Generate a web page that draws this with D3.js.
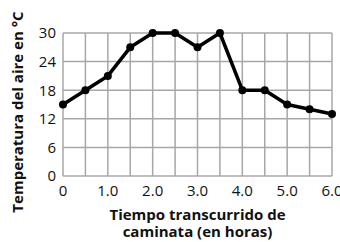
<!DOCTYPE html>
<html>
<head>
<meta charset="utf-8">
<script src="https://cdn.jsdelivr.net/npm/d3@7"></script>
<style>
  body{margin:0;background:#fff;}
  svg{font-family:"Open Sans",sans-serif;}
</style>
</head>
<body>
<div id="chart"></div>
<script>

var hours = [0,0.5,1.0,1.5,2.0,2.5,3.0,3.5,4.0,4.5,5.0,5.5,6.0];
var temps = [15,18,21,27,30,30,27,30,18,18,15,14,13];
var xTicks = [0,1,2,3,4,5,6];
var yTicks = [0,6,12,18,24,30];
var yTitle = "Temperatura del aire en °C";
var xTitle = ["Tiempo transcurrido de","caminata (en horas)"];

var margin = {top: 33, right: 8, bottom: 66, left: 63};
var width  = 340 - margin.left - margin.right;
var height = 242 - margin.top  - margin.bottom;

var svg = d3.select("#chart")
  .append("svg")
    .attr("width",340)
    .attr("height",242);

var g = svg.append("g")
  .attr("transform","translate("+margin.left+","+margin.top+")");

var x = d3.scaleLinear().domain([0,6]).range([0,width]);
var y = d3.scaleLinear().domain([0,30]).range([height,0]);

// grid every 0.5 h and every 6 degrees
g.append("g")
  .selectAll("line")
  .data(d3.range(0,6.01,0.5))
  .enter()
  .append("line")
  .attr("x1",function(d){return x(d)})
  .attr("x2",function(d){return x(d)})
  .attr("y1",0)
  .attr("y2",height)
  .attr("stroke","#a7a7a9")
  .attr("stroke-width",1.5);

g.append("g")
  .selectAll("line")
  .data(yTicks)
  .enter()
  .append("line")
  .attr("x1",0)
  .attr("x2",width)
  .attr("y1",function(d){return y(d)})
  .attr("y2",function(d){return y(d)})
  .attr("stroke","#a7a7a9")
  .attr("stroke-width",1.5);

// tick labels
g.append("g")
  .selectAll("text")
  .data(yTicks)
  .enter()
  .append("text")
  .attr("x",-7)
  .attr("y",function(d){return y(d)})
  .attr("dy","0.36em")
  .attr("text-anchor","end")
  .attr("font-size",15)
  .attr("fill","#111")
  .text(function(d){return d});

g.append("g")
  .selectAll("text")
  .data(xTicks)
  .enter()
  .append("text")
  .attr("x",function(d){return x(d)})
  .attr("y",height+20)
  .attr("text-anchor","middle")
  .attr("font-size",15)
  .attr("fill","#111")
  .text(function(d){return d == 0 ? "0" : d3.format(".1f")(d)});

// data line
var line = d3.line()
  .x(function(d){return x(d[0])})
  .y(function(d){return y(d[1])});

var pts = d3.zip(hours,temps);

g.append("path")
  .datum(pts)
  .attr("d",line)
  .attr("fill","none")
  .attr("stroke","#000")
  .attr("stroke-width",3.5)
  .attr("stroke-linejoin","round");

g.append("g")
  .selectAll("circle")
  .data(pts)
  .enter()
  .append("circle")
  .attr("cx",function(d){return x(d[0])})
  .attr("cy",function(d){return y(d[1])})
  .attr("r",4)
  .attr("fill","#000");

// titles
svg.append("text")
  .attr("transform","translate(23,112) rotate(-90)")
  .attr("text-anchor","middle")
  .attr("font-size",15)
  .attr("font-weight","bold")
  .attr("fill","#111")
  .text(yTitle);

// two-line x title as one text block
svg.append("text")
  .attr("text-anchor","middle")
  .attr("font-size",15)
  .attr("font-weight","bold")
  .attr("fill","#111")
  .selectAll("tspan")
  .data(xTitle)
  .enter()
  .append("tspan")
  .attr("x",margin.left+width/2)
  .attr("y",function(d,i){return 220+i*17})
  .text(function(d){return d});

</script>
</body>
</html>
